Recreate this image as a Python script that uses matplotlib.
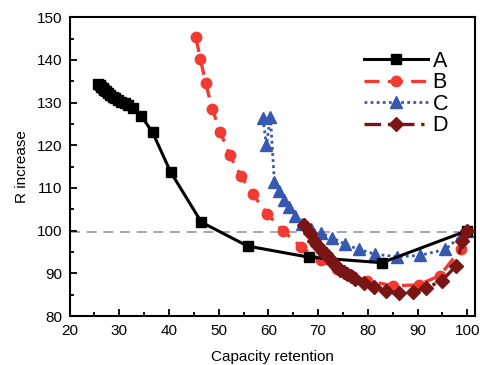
import matplotlib
matplotlib.use("Agg")
import matplotlib.pyplot as plt
from matplotlib.ticker import MultipleLocator

plt.rcParams['font.family'] = ['Liberation Sans', 'DejaVu Sans']

# capacity retention (%) vs resistance increase (%)
a_x = [25.8, 26.1, 26.4, 26.7, 27.0, 27.4, 27.8, 28.2, 28.7, 29.2, 29.8, 30.4, 31.1, 31.8,
       32.8, 34.4, 36.7, 40.3, 46.5, 55.8, 68.1, 82.8, 100.0]
a_y = [134.3, 134.0, 133.7, 133.4, 133.0, 132.6, 132.2, 131.8, 131.4, 131.0, 130.6, 130.2, 129.8, 129.4,
       128.8, 126.9, 123.0, 113.8, 102.0, 96.4, 93.8, 92.5, 100.0]

b_x = [45.4, 46.3, 47.4, 48.7, 50.3, 52.2, 54.4, 56.9, 59.7, 63.0, 66.6, 70.5, 73.8, 76.9,
       79.9, 85.0, 90.2, 94.5, 98.8, 99.6, 100.0]
b_y = [145.3, 140.2, 134.5, 128.5, 123.2, 117.7, 112.9, 108.5, 104.0, 99.9, 96.2, 93.1, 91.0, 89.4,
       88.3, 87.1, 87.3, 89.5, 95.8, 99.4, 100.0]

c_x = [58.9, 59.6, 60.4, 61.2, 62.1, 63.1, 64.2, 65.4, 66.8, 68.6, 70.6, 72.7, 75.5, 78.2,
       81.5, 85.9, 90.4, 95.6, 99.0, 100.0]
c_y = [126.3, 120.0, 126.6, 111.5, 109.4, 107.3, 105.5, 103.4, 101.6, 100.5, 99.4, 98.4, 96.8, 95.6,
       94.5, 93.9, 94.2, 95.6, 99.0, 100.0]

d_x = [67.1, 68.4, 69.1, 69.8, 70.4, 71.0, 71.5, 72.0, 72.5, 73.0, 73.5, 74.0, 74.5, 75.2, 75.8,
       76.6, 77.5, 79.2, 81.3, 83.7, 86.2, 89.0, 91.8, 94.9, 97.8, 99.0, 100.0]
d_y = [101.3, 99.4, 97.7, 96.7, 95.9, 95.1, 94.5, 93.8, 93.1, 92.4, 91.8, 91.3, 90.8, 90.3, 89.8,
       89.3, 88.7, 87.8, 86.9, 85.8, 85.3, 85.7, 86.6, 88.3, 91.8, 97.5, 100.0]

ref_level = 99.8

fig, ax = plt.subplots(figsize=(4.8, 3.65), dpi=100)
fig.subplots_adjust(left=0.145, right=0.99, top=0.953, bottom=0.134)

ax.axhline(ref_level, color='#9a9a9a', lw=1.2, ls=(0, (6, 4)), zorder=1)

ax.plot(a_x, a_y, color='black', lw=2.2, marker='s', ms=6.5, label='A', zorder=3)
ax.plot(b_x, b_y, color='#F03A32', lw=2.4, ls=(0, (4.5, 2.5)), marker='o', ms=7.5, label='B', zorder=2)
ax.plot(c_x, c_y, color='#3558B0', lw=2.0, ls=(0, (1, 1.2)), marker='^', ms=8.5, label='C', zorder=2)
ax.plot(d_x, d_y, color='#7A1515', lw=2.4, ls=(0, (5, 2, 1, 2)), marker='D', ms=7, label='D', zorder=4)

ax.set_xlim(20, 101.6)
ax.set_ylim(80, 150)
ax.xaxis.set_major_locator(MultipleLocator(10))
ax.xaxis.set_minor_locator(MultipleLocator(5))
ax.yaxis.set_major_locator(MultipleLocator(10))
ax.yaxis.set_minor_locator(MultipleLocator(5))
ax.tick_params(which='both', direction='in', top=False, right=False, labelsize=11, width=1.3)
ax.tick_params(which='major', length=5)
ax.tick_params(which='minor', length=3)
ax.tick_params(axis='x', pad=6)
ax.tick_params(axis='y', pad=5)
for s in ax.spines.values():
    s.set_linewidth(1.5)

ax.set_xlabel('Capacity retention', fontsize=11, labelpad=8)
ax.set_ylabel('R increase', fontsize=11, labelpad=6)

leg = ax.legend(loc='upper right', bbox_to_anchor=(0.965, 0.93), frameon=False, fontsize=15.5,
                handlelength=3.0, handletextpad=0.2, labelspacing=0.02, borderaxespad=0.2)

fig.savefig('out.png', dpi=100)
